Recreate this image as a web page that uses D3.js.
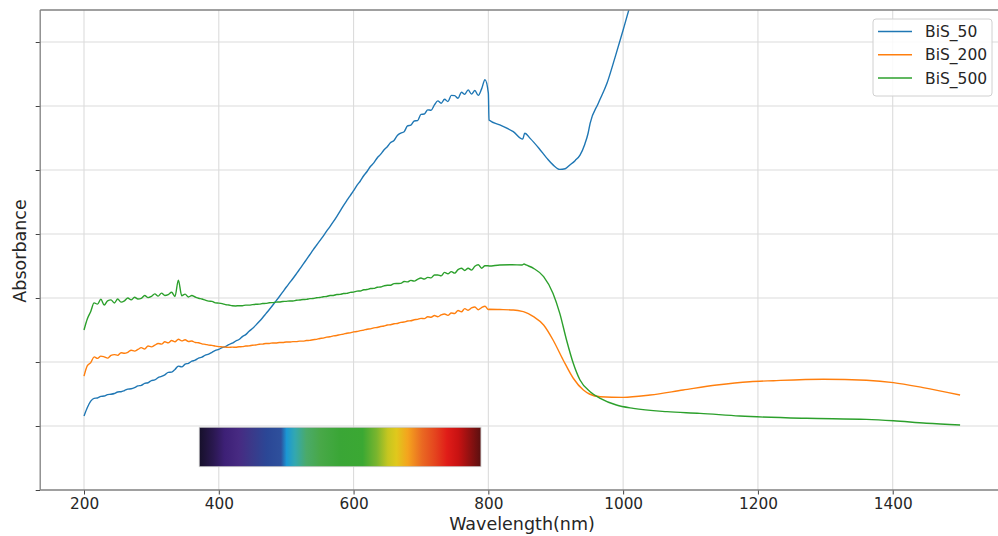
<!DOCTYPE html>
<html>
<head>
<meta charset="utf-8">
<script src="https://cdn.jsdelivr.net/npm/d3@7"></script>
<style>
  html, body { margin: 0; padding: 0; background: #fff; }
  svg { display: block; font-family: "DejaVu Sans", sans-serif; }
</style>
</head>
<body>
<svg id="chart" width="998" height="536"></svg>
<script>
// UV-Vis-NIR absorbance spectra of BiS samples (arbitrary units)
const seriesNames = ["BiS_50", "BiS_200", "BiS_500"];
const seriesColors = ["#1f77b4", "#ff7f0e", "#2ca02c"];

// visible region sampled every 5 nm from 200 to 800 nm
const visWavelength = d3.range(200, 801, 5);

const bis50Vis = [
  0.578, 0.645, 0.694, 0.716, 0.719, 0.731, 0.734, 0.745, 0.748, 0.754,
  0.766, 0.768, 0.777, 0.788, 0.791, 0.800, 0.813, 0.818, 0.833, 0.838,
  0.855, 0.860, 0.878, 0.887, 0.900, 0.919, 0.921, 0.942, 0.968, 0.962,
  0.983, 0.990, 1.006, 1.014, 1.030, 1.038, 1.053, 1.062, 1.076, 1.090,
  1.099, 1.112, 1.121, 1.136, 1.147, 1.163, 1.176, 1.198, 1.214, 1.240,
  1.262, 1.288, 1.316, 1.346, 1.378, 1.410, 1.443, 1.477, 1.512, 1.548,
  1.584, 1.618, 1.652, 1.688, 1.725, 1.762, 1.800, 1.838, 1.876, 1.912,
  1.948, 1.984, 2.022, 2.058, 2.096, 2.136, 2.178, 2.222, 2.262, 2.300,
  2.338, 2.380, 2.414, 2.455, 2.488, 2.527, 2.556, 2.594, 2.622, 2.656,
  2.682, 2.715, 2.731, 2.770, 2.788, 2.799, 2.844, 2.851, 2.883, 2.886,
  2.935, 2.937, 2.970, 2.967, 3.009, 3.040, 3.021, 3.053, 3.035, 3.083,
  3.081, 3.060, 3.108, 3.092, 3.126, 3.093, 3.121, 3.083, 3.134, 3.205,
  3.100
];
const bis200Vis = [
  0.890, 0.972, 0.995, 1.040, 1.028, 1.046, 1.040, 1.030, 1.052, 1.058,
  1.052, 1.072, 1.068, 1.076, 1.092, 1.085, 1.098, 1.112, 1.102, 1.125,
  1.118, 1.131, 1.145, 1.140, 1.158, 1.150, 1.168, 1.158, 1.178, 1.165,
  1.174, 1.160, 1.164, 1.152, 1.150, 1.142, 1.138, 1.132, 1.130, 1.124,
  1.120, 1.118, 1.116, 1.114, 1.116, 1.115, 1.119, 1.120, 1.125, 1.126,
  1.131, 1.133, 1.139, 1.140, 1.145, 1.145, 1.149, 1.149, 1.152, 1.152,
  1.156, 1.156, 1.159, 1.159, 1.163, 1.163, 1.168, 1.169, 1.174, 1.177,
  1.184, 1.187, 1.194, 1.197, 1.204, 1.207, 1.214, 1.218, 1.225, 1.228,
  1.235, 1.238, 1.245, 1.249, 1.256, 1.259, 1.267, 1.270, 1.277, 1.281,
  1.289, 1.291, 1.299, 1.301, 1.310, 1.312, 1.320, 1.322, 1.330, 1.333,
  1.341, 1.339, 1.353, 1.350, 1.363, 1.354, 1.368, 1.375, 1.364, 1.383,
  1.379, 1.402, 1.392, 1.417, 1.404, 1.422, 1.430, 1.408, 1.425, 1.436,
  1.410
];
const bis500Vis = [
  1.250, 1.338, 1.395, 1.462, 1.452, 1.490, 1.445, 1.478, 1.485, 1.461,
  1.492, 1.468, 1.478, 1.500, 1.485, 1.506, 1.492, 1.497, 1.520, 1.503,
  1.512, 1.532, 1.515, 1.538, 1.520, 1.527, 1.545, 1.512, 1.640, 1.518,
  1.530, 1.508, 1.519, 1.508, 1.498, 1.492, 1.483, 1.476, 1.474, 1.462,
  1.460, 1.456, 1.448, 1.445, 1.439, 1.438, 1.440, 1.440, 1.444, 1.444,
  1.448, 1.451, 1.452, 1.457, 1.458, 1.463, 1.464, 1.468, 1.469, 1.473,
  1.474, 1.477, 1.477, 1.482, 1.484, 1.488, 1.489, 1.495, 1.496, 1.502,
  1.504, 1.510, 1.512, 1.519, 1.520, 1.527, 1.528, 1.535, 1.536, 1.544,
  1.546, 1.554, 1.555, 1.564, 1.566, 1.574, 1.575, 1.584, 1.586, 1.595,
  1.600, 1.600, 1.612, 1.613, 1.614, 1.629, 1.626, 1.638, 1.632, 1.646,
  1.656, 1.648, 1.661, 1.657, 1.680, 1.680, 1.673, 1.700, 1.690, 1.706,
  1.694, 1.722, 1.733, 1.715, 1.733, 1.718, 1.748, 1.760, 1.733, 1.752,
  1.752
];

// near-infrared region (detector change at 800 nm)
const bis50NirWavelength = [801, 817, 837, 851, 854, 862, 875, 887, 896, 906, 914, 921, 929, 936, 943, 948, 951, 963, 976, 988, 1000, 1009, 1030];
const bis50Nir = [2.890, 2.852, 2.800, 2.742, 2.787, 2.747, 2.670, 2.591, 2.540, 2.505, 2.510, 2.539, 2.575, 2.617, 2.700, 2.787, 2.865, 3.020, 3.177, 3.380, 3.594, 3.760, 4.100];

const bis200NirWavelength = [801, 817, 837, 850, 853, 867, 882, 896, 911, 926, 941, 950, 966, 1000, 1040, 1089, 1139, 1188, 1223, 1297, 1361, 1401, 1445, 1500];
const bis200Nir = [1.412, 1.410, 1.406, 1.396, 1.392, 1.354, 1.289, 1.172, 1.016, 0.873, 0.781, 0.750, 0.729, 0.724, 0.742, 0.781, 0.820, 0.846, 0.854, 0.865, 0.857, 0.839, 0.800, 0.742];

const bis500NirWavelength = [801, 817, 835, 850, 853, 856, 867, 882, 896, 906, 916, 926, 936, 951, 966, 990, 1015, 1065, 1114, 1173, 1272, 1361, 1401, 1450, 1500];
const bis500Nir = [1.750, 1.758, 1.760, 1.758, 1.766, 1.758, 1.732, 1.667, 1.536, 1.380, 1.172, 0.990, 0.859, 0.768, 0.716, 0.664, 0.638, 0.612, 0.599, 0.578, 0.560, 0.552, 0.541, 0.521, 0.508];

// axis ticks
const xTicks = [200, 400, 600, 800, 1000, 1200, 1400];
const yTicks = [0, 0.5, 1.0, 1.5, 2.0, 2.5, 3.0, 3.5];

// visible-light colour band, drawn under the spectra (nm and absorbance extents)
const bandWavelength = [371, 789];
const bandLevel = [0.182, 0.49];
const bandStops = [
  [0.00, "#16102a"], [0.05, "#2a1850"], [0.09, "#3d2076"], [0.14, "#472a82"],
  [0.19, "#3a3a8a"], [0.24, "#2b4796"], [0.29, "#2e509c"], [0.31, "#1b97d4"],
  [0.34, "#33a8b0"], [0.38, "#4aaa6a"], [0.43, "#48a848"], [0.50, "#3aa636"],
  [0.58, "#3ba833"], [0.63, "#7ab52e"], [0.67, "#c6c620"], [0.70, "#e0c81c"],
  [0.74, "#f4a41e"], [0.79, "#ea6a22"], [0.84, "#e4421e"], [0.88, "#e01c18"],
  [0.92, "#c81212"], [1.00, "#5a1010"]
];

const svg = d3.select("#chart");
const plotLeft = 40.2, plotTop = 10, plotH = 480;
const plotRight = 1003.9;

const x = d3.scaleLinear().domain([135, 1565]).range([plotLeft, plotRight]);
const y = d3.scaleLinear().domain([0, 3.75]).range([plotTop + plotH, plotTop]);

const defs = svg.append("defs");
defs.append("clipPath").attr("id", "plotClip")
  .append("rect").attr("x", plotLeft).attr("y", plotTop)
  .attr("width", plotRight - plotLeft).attr("height", plotH);

// grid
const grid = svg.append("g").attr("stroke", "#dcdcdc").attr("stroke-width", 1.1);
grid.selectAll("line.gx").data(xTicks).join("line").attr("class", "gx")
  .attr("x1", d => x(d)).attr("x2", d => x(d))
  .attr("y1", plotTop).attr("y2", plotTop + plotH);
grid.selectAll("line.gy").data(yTicks.filter(d => d > 0)).join("line").attr("class", "gy")
  .attr("x1", plotLeft).attr("x2", plotRight)
  .attr("y1", d => y(d)).attr("y2", d => y(d));

// colour band
const grad = defs.append("linearGradient")
  .attr("id", "visBand").attr("x1", "0%").attr("x2", "100%").attr("y1", "0%").attr("y2", "0%");
grad.selectAll("stop").data(bandStops).join("stop")
  .attr("offset", d => d[0]).attr("stop-color", d => d[1]);
svg.append("rect")
  .attr("x", x(bandWavelength[0])).attr("y", y(bandLevel[1]))
  .attr("width", x(bandWavelength[1]) - x(bandWavelength[0]))
  .attr("height", y(bandLevel[0]) - y(bandLevel[1]))
  .attr("fill", "url(#visBand)")
  .attr("stroke", "#c8c8c8").attr("stroke-width", 0.8);

// spectra
const series = [
  { vis: bis50Vis, nirX: bis50NirWavelength, nirY: bis50Nir },
  { vis: bis200Vis, nirX: bis200NirWavelength, nirY: bis200Nir },
  { vis: bis500Vis, nirX: bis500NirWavelength, nirY: bis500Nir }
].map((s, i) => ({
  name: seriesNames[i],
  color: seriesColors[i],
  points: visWavelength.map((w, j) => [w, s.vis[j]])
    .concat(s.nirX.map((w, j) => [w, s.nirY[j]]))
}));

const line = d3.line().x(d => x(d[0])).y(d => y(d[1])).curve(d3.curveMonotoneX);
const lines = svg.append("g").attr("clip-path", "url(#plotClip)");
lines.selectAll("path").data(series).join("path")
  .attr("d", d => line(d.points))
  .attr("fill", "none")
  .attr("stroke", d => d.color)
  .attr("stroke-width", 1.4)
  .attr("stroke-linejoin", "round");

// axes
const xAxis = svg.append("g").attr("transform", `translate(0,${plotTop + plotH})`)
  .call(d3.axisBottom(x).tickValues(xTicks).tickSize(4.5).tickPadding(4).tickFormat(d3.format("d")));
const yAxis = svg.append("g").attr("transform", `translate(${plotLeft},0)`)
  .call(d3.axisLeft(y).tickValues(yTicks).tickSize(4.5).tickFormat(""));
[xAxis, yAxis].forEach(a => {
  a.select(".domain").remove();
  a.selectAll(".tick line").attr("stroke", "#444").attr("stroke-width", 1);
});
xAxis.selectAll(".tick text")
  .attr("fill", "#262626").attr("font-size", "15.3px").attr("font-family", "DejaVu Sans, sans-serif")
  .attr("dy", "0.71em");

// spines
const spine = svg.append("g").attr("stroke", "#808080").attr("stroke-width", 1.3).attr("fill", "none");
spine.append("line").attr("x1", plotLeft).attr("x2", plotLeft).attr("y1", plotTop).attr("y2", plotTop + plotH);
spine.append("line").attr("x1", plotLeft).attr("x2", plotRight).attr("y1", plotTop).attr("y2", plotTop);
spine.append("line").attr("x1", plotLeft).attr("x2", plotRight).attr("y1", plotTop + plotH).attr("y2", plotTop + plotH);
spine.append("line").attr("x1", plotRight).attr("x2", plotRight).attr("y1", plotTop).attr("y2", plotTop + plotH);

// axis titles
svg.append("text")
  .attr("x", 522).attr("y", 529.5)
  .attr("text-anchor", "middle").attr("font-size", "17.5px").attr("fill", "#262626")
  .text("Wavelength(nm)");
svg.append("text")
  .attr("transform", `translate(26,251) rotate(-90)`)
  .attr("text-anchor", "middle").attr("font-size", "17.5px").attr("fill", "#262626")
  .text("Absorbance");

// legend
const legend = svg.append("g");
legend.append("rect")
  .attr("x", 873).attr("y", 19).attr("width", 119).attr("height", 77).attr("rx", 3)
  .attr("fill", "#fff").attr("fill-opacity", 0.85)
  .attr("stroke", "#d0d0d0").attr("stroke-width", 1);
const items = legend.selectAll("g.item").data(series).join("g").attr("class", "item")
  .attr("transform", (d, i) => `translate(0,${31.5 + i * 23.3})`);
items.append("line").attr("x1", 878).attr("x2", 912)
  .attr("stroke", d => d.color).attr("stroke-width", 1.5);
items.append("text").attr("x", 925).attr("y", 5.5)
  .attr("font-size", "15.5px").attr("fill", "#262626")
  .text(d => d.name);
</script>
</body>
</html>
